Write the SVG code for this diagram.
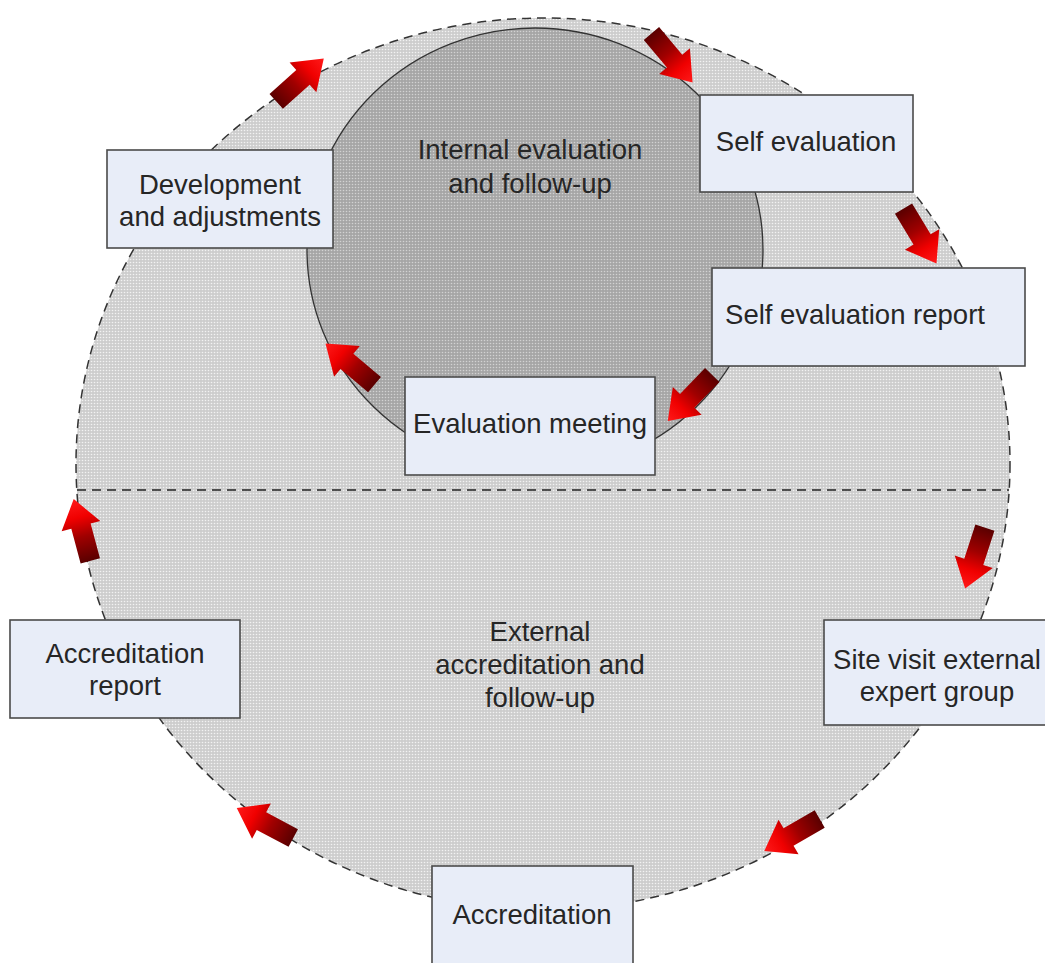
<svg xmlns="http://www.w3.org/2000/svg" width="1045" height="963" viewBox="0 0 1045 963">
<style>
.box{fill:#e8edf8;stroke:#4a4a4a;stroke-width:1.6}
.t{font-family:"Liberation Sans",Arial,sans-serif;font-size:27.5px;fill:#262626;text-anchor:middle}
.arr{fill:url(#ag)}
</style>
<defs>
<pattern id="po" width="3" height="3" patternUnits="userSpaceOnUse">
<rect width="3" height="3" fill="#cdcdcd"/>
<circle cx="1.5" cy="1.5" r="0.8" fill="#f2f2f2"/>
</pattern>
<pattern id="pi" width="3" height="3" patternUnits="userSpaceOnUse">
<rect width="3" height="3" fill="#a6a6a6"/>
<circle cx="1.5" cy="1.5" r="0.8" fill="#d2d2d2"/>
</pattern>
<linearGradient id="ag" gradientUnits="userSpaceOnUse" x1="-32" y1="0" x2="32" y2="0">
<stop offset="0" stop-color="#5a0000"/>
<stop offset="0.4" stop-color="#a00000"/>
<stop offset="0.7" stop-color="#f00000"/>
<stop offset="1" stop-color="#ff1a1a"/>
</linearGradient>
<path id="a" d="M-32,-10 L4,-10 L4,-20 L32,0 L4,20 L4,10 L-32,10 Z"/>
</defs>
<rect width="1045" height="963" fill="#ffffff"/>
<g id="background">
<ellipse cx="543" cy="464" rx="467" ry="446" fill="url(#po)" stroke="#333" stroke-width="1.5" stroke-dasharray="9,6"/>
<line x1="77" y1="490" x2="1009" y2="490" stroke="#222" stroke-width="1.5" stroke-dasharray="9,6"/>
<ellipse cx="535" cy="250" rx="228" ry="222" fill="url(#pi)" stroke="#333" stroke-width="1.3"/>
<text class="t" x="530" y="159">Internal evaluation</text>
<text class="t" x="530" y="193">and follow-up</text>
<text class="t" x="540" y="641">External</text>
<text class="t" x="540" y="674">accreditation and</text>
<text class="t" x="540" y="707">follow-up</text>
</g>
<g id="connectors">
<use href="#a" class="arr" transform="translate(300,80) rotate(-42)"/>
<use href="#a" class="arr" transform="translate(672,58) rotate(50)"/>
<use href="#a" class="arr" transform="translate(920,236) rotate(59)"/>
<use href="#a" class="arr" transform="translate(690,398) rotate(134)"/>
<use href="#a" class="arr" transform="translate(350,364) rotate(220)"/>
<use href="#a" class="arr" transform="translate(975,558) rotate(108)"/>
<use href="#a" class="arr" transform="translate(792,835) rotate(150)"/>
<use href="#a" class="arr" transform="translate(265,823) rotate(208)"/>
<use href="#a" class="arr" transform="translate(82,530) rotate(-105)"/>
</g>
<g id="dev">
<rect class="box" x="107" y="150" width="226" height="98"/>
<text class="t" x="220" y="194">Development</text>
<text class="t" x="220" y="226">and adjustments</text>
</g>
<g id="selfeval">
<rect class="box" x="700" y="95" width="213" height="97"/>
<text class="t" x="806" y="151">Self evaluation</text>
</g>
<g id="selfreport">
<rect class="box" x="712" y="268" width="313" height="98"/>
<text class="t" x="855" y="324">Self evaluation report</text>
</g>
<g id="evalmeeting">
<rect class="box" x="405" y="377" width="250" height="98"/>
<text class="t" x="530" y="433">Evaluation meeting</text>
</g>
<g id="sitevisit">
<rect class="box" x="824" y="620" width="226" height="105"/>
<text class="t" x="937" y="669">Site visit external</text>
<text class="t" x="937" y="701">expert group</text>
</g>
<g id="accreport">
<rect class="box" x="10" y="620" width="230" height="98"/>
<text class="t" x="125" y="663">Accreditation</text>
<text class="t" x="125" y="695">report</text>
</g>
<g id="accreditation">
<rect class="box" x="432" y="866" width="201" height="110"/>
<text class="t" x="532" y="924">Accreditation</text>
</g>
</svg>
